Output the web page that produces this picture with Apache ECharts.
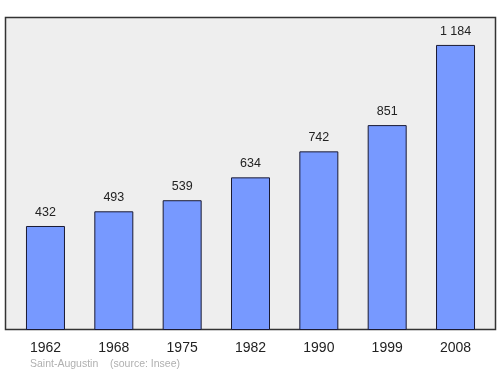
<!DOCTYPE html>
<html><head><meta charset="utf-8">
<script src="https://cdn.jsdelivr.net/npm/echarts@6/dist/echarts.min.js"></script>
<style>html,body{margin:0;padding:0;background:#fff}#c{width:500px;height:374px}</style>
</head><body><div id="c"></div>
<script>
var years = ['1962','1968','1975','1982','1990','1999','2008'];
var population = [432, 493, 539, 634, 742, 851, 1184];
var valueLabels = ['432','493','539','634','742','851','1 184'];
var sourceText = 'Saint-Augustin    (source: Insee)';

var chart = echarts.init(document.getElementById('c'), null, {renderer:'canvas'});
chart.setOption({
  animation:false,
  graphic:[
    {type:'rect', shape:{x:5.5,y:17.5,width:490,height:312}, style:{fill:'#eeeeee', stroke:'#333333', lineWidth:1.5}, z:-10},
    {type:'text', left:30, top:359, style:{text:sourceText, fill:'#b0b0b0', font:'10.5px "Liberation Sans", Arial, sans-serif'}}
  ],
  grid:{left:11.3, right:10.3, top:17, bottom:44, containLabel:false},
  xAxis:{type:'category', data:years, axisLine:{show:false}, axisTick:{show:false},
    axisLabel:{margin:11, fontSize:14, color:'#222', fontFamily:'"Liberation Sans", Arial, sans-serif'}},
  yAxis:{type:'value', min:0, max:1300, show:false, splitLine:{show:false}},
  series:[{type:'bar', data:population, barWidth:39,
    itemStyle:{color:'#7799ff', borderColor:'#1a1a33', borderWidth:1},
    label:{show:true, position:'top', distance:7, fontSize:12.5, color:'#222',
      fontFamily:'"Liberation Sans", Arial, sans-serif',
      formatter:function(p){return valueLabels[p.dataIndex];}}
  }]
});
</script></body></html>
